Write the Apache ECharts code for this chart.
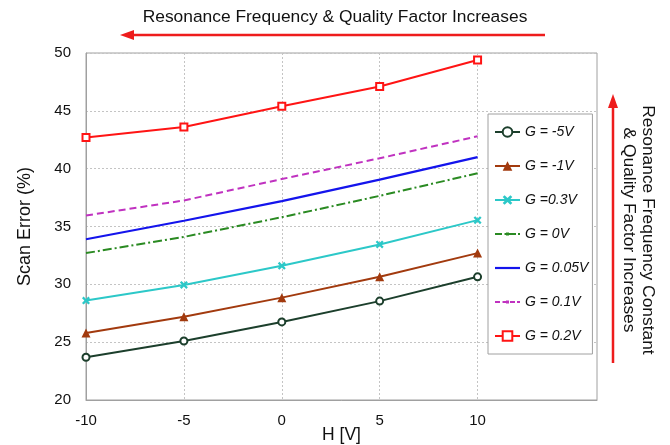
<!DOCTYPE html>
<html><head><meta charset="utf-8">
<script src="https://cdn.jsdelivr.net/npm/echarts@6/dist/echarts.min.js"></script>
<style>html,body{margin:0;padding:0;background:#fff}#c{width:670px;height:445px}</style>
</head><body><div id="c"></div>
<script>
const hValues = [-10, -5, 0, 5, 10];
const xTicks = [-10, -5, 0, 5, 10];
const seriesNames = ['G = -5V', 'G = -1V', 'G =0.3V', 'G = 0V', 'G = 0.05V', 'G = 0.1V', 'G = 0.2V'];
const gM5 = [23.7, 25.1, 26.75, 28.55, 30.65];
const gM1 = [25.8, 27.2, 28.85, 30.65, 32.7];
const g03 = [28.6, 29.95, 31.6, 33.45, 35.55];
const g0 = [32.7, 34.1, 35.8, 37.65, 39.6];
const g005 = [33.9, 35.5, 37.2, 39.05, 41.0];
const g01 = [35.95, 37.25, 39.1, 40.9, 42.8];
const g02 = [42.7, 43.6, 45.4, 47.1, 49.4];

const F = 'Liberation Sans, Arial, sans-serif';
const pairs = arr => hValues.map((h, i) => [h, arr[i]]);
const xMark = 'path://M2,0 L5,3 L8,0 L10,2 L7,5 L10,8 L8,10 L5,7 L2,10 L0,8 L3,5 L0,2 Z';
const iconSolid = 'path://M0,5L25,5L25,7.2L0,7.2Z';
const iconDashDot = 'path://M0,5h7v2h-7z M9.5,5h2v2h-2z M14,5h7v2h-7z M23,5h2v2h-2z M11,4.5h3v3h-3z';
const iconDash = 'path://M0,5h5v2h-5z M7.5,5h5v2h-5z M15,5h5v2h-5z M22,5h3v2h-3z M11,4.5h3v3h-3z';

const styles = [
  {data: gM5, color: '#1c3f2c', symbol: 'emptyCircle', size: 7, type: 'solid', w: 2},
  {data: gM1, color: '#a23a0e', symbol: 'triangle', size: 9, type: 'solid', w: 2},
  {data: g03, color: '#2cc8c8', symbol: xMark, size: 8, type: 'solid', w: 2},
  {data: g0, color: '#2a8a22', symbol: 'none', size: 0, type: [9, 3, 2, 3], w: 2, icon: iconDashDot},
  {data: g005, color: '#1414ec', symbol: 'none', size: 0, type: 'solid', w: 2.2, icon: iconSolid},
  {data: g01, color: '#c032c0', symbol: 'none', size: 0, type: [7, 4], w: 2, icon: iconDash},
  {data: g02, color: '#ff1414', symbol: 'emptyRect', size: 7, type: 'solid', w: 2}
];

const chart = echarts.init(document.getElementById('c'), null, {renderer: 'canvas'});
chart.setOption({
  animation: false,
  backgroundColor: '#fff',
  grid: {left: 86, right: 73, top: 53, bottom: 45, outerBoundsMode: 'none', containLabel: false,
    show: true, borderColor: '#a0a0a0', borderWidth: 1},
  xAxis: {
    type: 'value', min: -10, max: 16.1, interval: 5,
    name: 'H [V]', nameLocation: 'middle', nameGap: 26, nameMoveOverlap: false,
    nameTextStyle: {fontFamily: F, fontSize: 17.5, color: '#111'},
    axisLine: {show: true, onZero: false, lineStyle: {color: '#a0a0a0'}},
    axisTick: {show: false, customValues: xTicks},
    axisLabel: {customValues: xTicks, fontFamily: F, fontSize: 15, color: '#111', margin: 13},
    splitLine: {show: true, lineStyle: {color: '#c4c4c4', type: [2, 2], width: 1}}
  },
  yAxis: {
    type: 'value', min: 20, max: 50, interval: 5,
    name: 'Scan Error (%)', nameLocation: 'middle', nameGap: 52, nameMoveOverlap: false,
    nameTextStyle: {fontFamily: F, fontSize: 18, color: '#111'},
    axisLine: {show: true, onZero: false, lineStyle: {color: '#a0a0a0'}},
    axisTick: {show: false},
    axisLabel: {fontFamily: F, fontSize: 15, color: '#111', margin: 15},
    splitLine: {show: true, lineStyle: {color: '#c4c4c4', type: [2, 2], width: 1}}
  },
  legend: {
    orient: 'vertical', left: 488, top: 114,
    padding: [11, 4, 11, 6], itemGap: 20, itemWidth: 25, itemHeight: 12,
    borderColor: '#a0a0a0', borderWidth: 1, backgroundColor: '#fff',
    textStyle: {fontFamily: F, fontSize: 14, fontStyle: 'italic', color: '#111'},
    data: seriesNames.map((n, i) => styles[i].icon ? {name: n, icon: styles[i].icon} : {name: n})
  },
  series: styles.map((s, i) => ({
    name: seriesNames[i], type: 'line', data: pairs(s.data),
    symbol: s.symbol, symbolSize: s.size, showSymbol: s.symbol !== 'none',
    color: s.color,
    lineStyle: {color: s.color, width: s.w, type: s.type},
    itemStyle: {color: s.color, borderColor: s.color, borderWidth: s.symbol === 'emptyCircle' || s.symbol === 'emptyRect' ? 2 : 0},
    z: 3
  })),
  graphic: [
    {type: 'text', left: 'center', top: 9, style: {text: 'Resonance Frequency & Quality Factor Increases', font: '17.4px ' + F, fill: '#111'}, x: -5.5},
    {type: 'line', shape: {x1: 545, y1: 35, x2: 132, y2: 35}, style: {stroke: '#ee1c1c', lineWidth: 2.5}},
    {type: 'polygon', shape: {points: [[120, 35], [134, 30], [134, 40]]}, style: {fill: '#ee1c1c'}},
    {type: 'text', x: 648, y: 230, rotation: -Math.PI / 2, style: {text: 'Resonance Frequency Constant', font: '17.4px ' + F, fill: '#111', align: 'center', verticalAlign: 'middle'}},
    {type: 'text', x: 629, y: 230, rotation: -Math.PI / 2, style: {text: '& Quality Factor Increases', font: '17.4px ' + F, fill: '#111', align: 'center', verticalAlign: 'middle'}},
    {type: 'line', shape: {x1: 613, y1: 363, x2: 613, y2: 106}, style: {stroke: '#ee1c1c', lineWidth: 2.5}},
    {type: 'polygon', shape: {points: [[613, 94], [608, 108], [618, 108]]}, style: {fill: '#ee1c1c'}}
  ]
});
</script></body></html>
